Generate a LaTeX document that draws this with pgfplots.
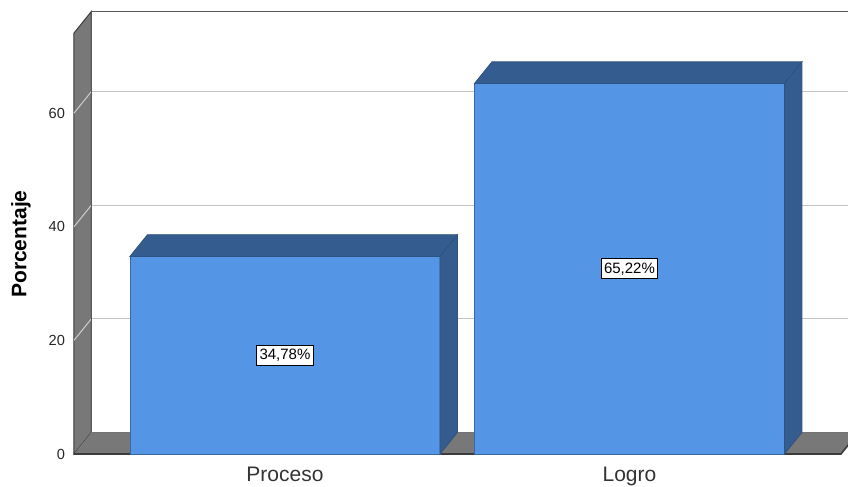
\documentclass[border=0pt]{standalone}
\usepackage{fontspec}
\setmainfont{Liberation Sans}
\usepackage{pgfplots}
\pgfplotsset{compat=1.18}
\definecolor{barfront}{HTML}{5595E5}
\definecolor{bardark}{HTML}{345C8E}
\definecolor{baredge}{HTML}{3A68A3}
\definecolor{wallgray}{HTML}{787878}
\definecolor{walledge}{HTML}{3C3C3C}
\definecolor{gridc}{HTML}{C4C4C4}
\begin{document}
\begin{tikzpicture}
\useasboundingbox (-35pt,-14.5pt) rectangle (389pt,229pt);
\begin{axis}[
  at={(0,0)}, anchor=south west,
  x=172.25pt, y=2.84pt,
  xmin=-0.624, xmax=1.6342, ymin=-0.704, ymax=79.93,
  axis line style={draw=none},
  tick style={draw=none}, major tick length=0pt,
  xtick={0,1}, xticklabels={Proceso,Logro},
  ytick={0,20,40,60},
  /pgf/number format/assume math mode=true,
  yticklabel style={font=\fontsize{7.3}{8}\selectfont, text=black!85, xshift=1pt},
  xticklabel style={font=\fontsize{10.5}{12}\selectfont, text=black!80, anchor=base, yshift=-11.85pt},
  ylabel={Porcentaje},
  ylabel style={font=\fontsize{10.5}{12}\selectfont\bfseries, at={(axis description cs:-0.063,0.467)}, anchor=center},
  clip=true,
]
% left wall
\addplot[fill=wallgray, draw=walledge, line width=0.5pt] coordinates {(-0.6125,0) (-0.6125,74.1) (-0.5617,77.92) (-0.5617,3.82)} -- cycle;
% wall gridlines
\addplot[draw=gridc!85!white, line width=0.5pt] coordinates {(-0.6125,20) (-0.5617,23.82)};
\addplot[draw=gridc!85!white, line width=0.5pt] coordinates {(-0.6125,40) (-0.5617,43.82)};
\addplot[draw=gridc!85!white, line width=0.5pt] coordinates {(-0.6125,60) (-0.5617,63.82)};
% back gridlines
\addplot[draw=gridc, line width=0.5pt] coordinates {(-0.5617,23.82) (1.7,23.82)};
\addplot[draw=gridc, line width=0.5pt] coordinates {(-0.5617,43.82) (1.7,43.82)};
\addplot[draw=gridc, line width=0.5pt] coordinates {(-0.5617,63.82) (1.7,63.82)};
% back wall border
\addplot[draw=black!65, line width=0.8pt] coordinates {(-0.5617,3.82) (-0.5617,77.92) (1.7,77.92)};
% floor
\addplot[fill=wallgray, draw=none] coordinates {(-0.6125,0) (1.614,0) (1.665,3.82) (-0.5617,3.82)} -- cycle;
\addplot[draw=black!55, line width=0.4pt] coordinates {(-0.5617,3.82) (1.665,3.82)};
\addplot[draw=walledge, line width=0.8pt] coordinates {(-0.6125,0) (1.614,0) (1.665,3.82)};
% bar Proceso
\addplot[fill=barfront, draw=baredge, line width=0.4pt] coordinates {(-0.45,0) (-0.45,34.78) (0.45,34.78) (0.45,0)} -- cycle;
\addplot[fill=bardark, draw=bardark!90!black, line width=0.4pt] coordinates {(-0.45,34.78) (-0.3992,38.60) (0.5008,38.60) (0.45,34.78)} -- cycle;
\addplot[fill=bardark, draw=bardark!90!black, line width=0.4pt] coordinates {(0.45,0) (0.45,34.78) (0.5008,38.60) (0.5008,3.82)} -- cycle;
% bar Logro
\addplot[fill=barfront, draw=baredge, line width=0.4pt] coordinates {(0.55,0) (0.55,65.22) (1.45,65.22) (1.45,0)} -- cycle;
\addplot[fill=bardark, draw=bardark!90!black, line width=0.4pt] coordinates {(0.55,65.22) (0.6008,69.04) (1.5008,69.04) (1.45,65.22)} -- cycle;
\addplot[fill=bardark, draw=bardark!90!black, line width=0.4pt] coordinates {(1.45,0) (1.45,65.22) (1.5008,69.04) (1.5008,3.82)} -- cycle;
% value labels
\addplot[draw=none, mark=none, nodes near coords, point meta=explicit symbolic,
  nodes near coords style={anchor=center, fill=white, draw=black, line width=0.5pt,
    font=\fontsize{7.5}{8}\selectfont, inner xsep=1.5pt, inner ysep=2pt, text=black}]
  coordinates {(0,17.39) [34,78\%] (1,32.61) [65,22\%]};
\end{axis}
\end{tikzpicture}
\end{document}
